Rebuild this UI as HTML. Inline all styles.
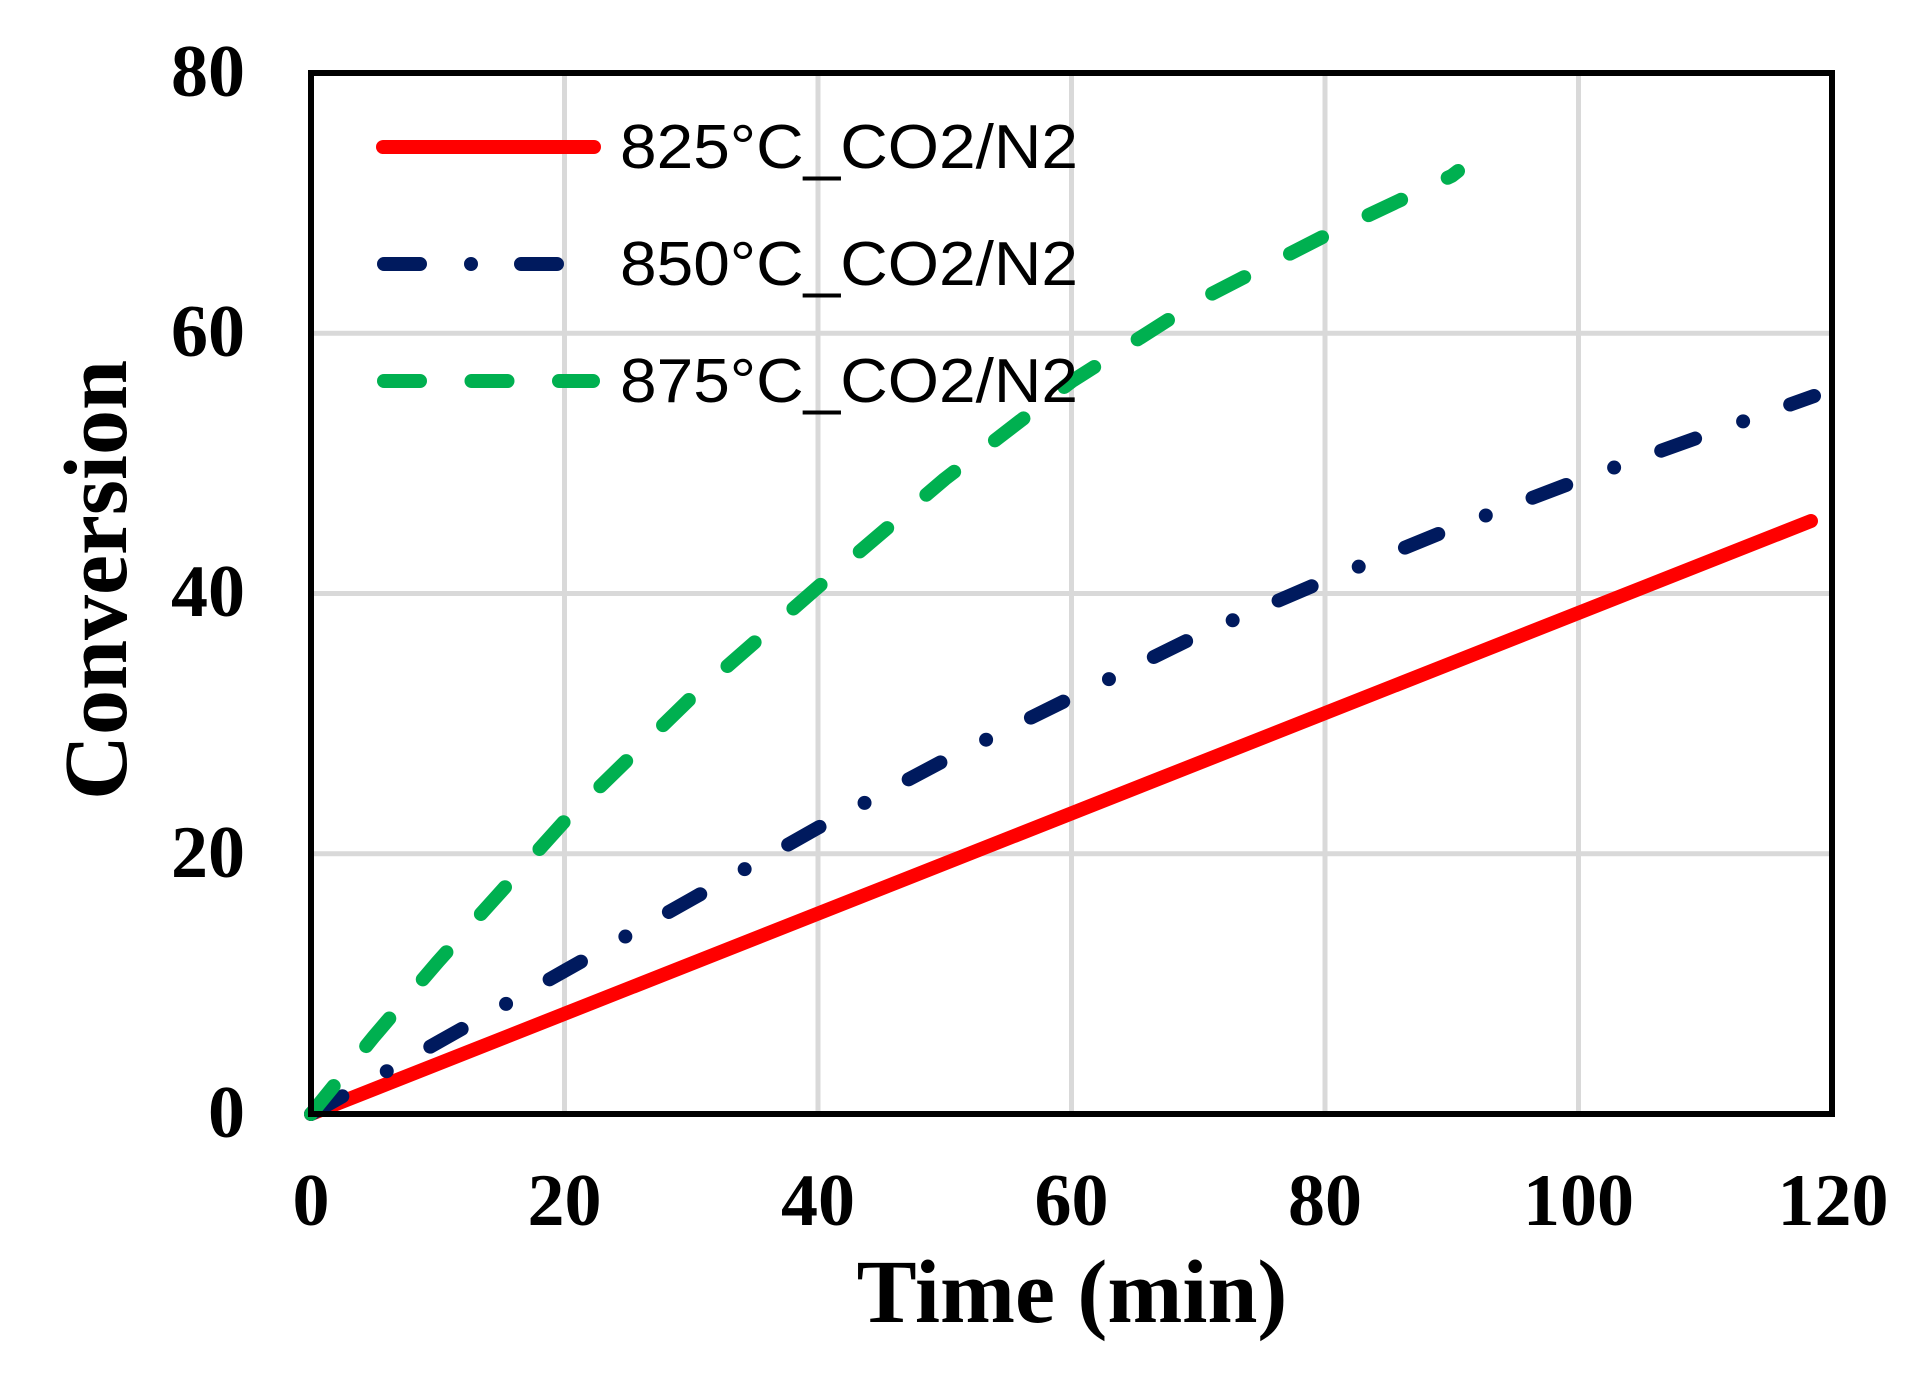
<!DOCTYPE html>
<html><head><meta charset="utf-8"><style>html,body{margin:0;padding:0;background:#fff}svg{display:block}</style></head>
<body>
<svg width="1923" height="1384" viewBox="0 0 1923 1384" xmlns="http://www.w3.org/2000/svg">
<rect width="1923" height="1384" fill="#fff"/>
<g stroke="#d9d9d9" stroke-width="5">
<line x1="564.5" y1="73" x2="564.5" y2="1114"/>
<line x1="818" y1="73" x2="818" y2="1114"/>
<line x1="1071.5" y1="73" x2="1071.5" y2="1114"/>
<line x1="1325" y1="73" x2="1325" y2="1114"/>
<line x1="1578.5" y1="73" x2="1578.5" y2="1114"/>
<line x1="311" y1="333.2" x2="1832" y2="333.2"/>
<line x1="311" y1="593.5" x2="1832" y2="593.5"/>
<line x1="311" y1="853.7" x2="1832" y2="853.7"/>
</g>
<g fill="none" stroke-width="14" stroke-linecap="round" stroke-linejoin="round">
<polyline stroke="#ff0000" points="311,1114 1811,521"/>
<polyline stroke="#001a5e" stroke-dasharray="36 51 0 50" points="311,1114 437.8,1042.4 564.5,970.9 691.3,899.3 818,827.7 944.8,760.1 1071.5,697.6 1198.3,635.1 1325,580.5 1451.8,528.4 1578.5,480.3 1705.3,434.9 1814,396"/>
<polyline stroke="#00b050" stroke-dasharray="36 51.5" points="311,1114 374.4,1035.9 437.8,961.8 564.5,821.2 691.3,697.6 818,587 944.8,479 1071.5,381.4 1198.3,300.7 1325,235.7 1451.8,175.8 1458,171"/>
</g>
<rect x="311" y="73" width="1521" height="1041" fill="none" stroke="#000" stroke-width="6"/>
<g fill="none" stroke-width="14" stroke-linecap="round">
<line x1="383" y1="147" x2="594" y2="147" stroke="#ff0000"/>
<line x1="384" y1="264" x2="593" y2="264" stroke="#001a5e" stroke-dasharray="36 51 0 50"/>
<line x1="384" y1="381" x2="593" y2="381" stroke="#00b050" stroke-dasharray="36 51.5"/>
</g>
<g font-family="Liberation Sans, sans-serif" font-size="62" fill="#000">
<text x="620" y="168" textLength="458" lengthAdjust="spacingAndGlyphs">825°C_CO2/N2</text>
<text x="620" y="285" textLength="458" lengthAdjust="spacingAndGlyphs">850°C_CO2/N2</text>
<text x="620" y="402" textLength="458" lengthAdjust="spacingAndGlyphs">875°C_CO2/N2</text>
</g>
<g font-family="Liberation Serif, serif" font-weight="bold" font-size="74" fill="#000">
<g text-anchor="end">
<text x="245" y="96">80</text>
<text x="245" y="356">60</text>
<text x="245" y="616">40</text>
<text x="245" y="877">20</text>
<text x="245" y="1137">0</text>
</g>
<g text-anchor="middle">
<text x="311" y="1225">0</text>
<text x="564.5" y="1225">20</text>
<text x="818" y="1225">40</text>
<text x="1071.5" y="1225">60</text>
<text x="1325" y="1225">80</text>
<text x="1578.5" y="1225">100</text>
<text x="1833" y="1225">120</text>
</g>
<text x="1072" y="1322" text-anchor="middle" font-size="90">Time (min)</text>
<text transform="translate(126,580) rotate(-90)" text-anchor="middle" font-size="90">Conversion</text>
</g>
</svg>
</body></html>
